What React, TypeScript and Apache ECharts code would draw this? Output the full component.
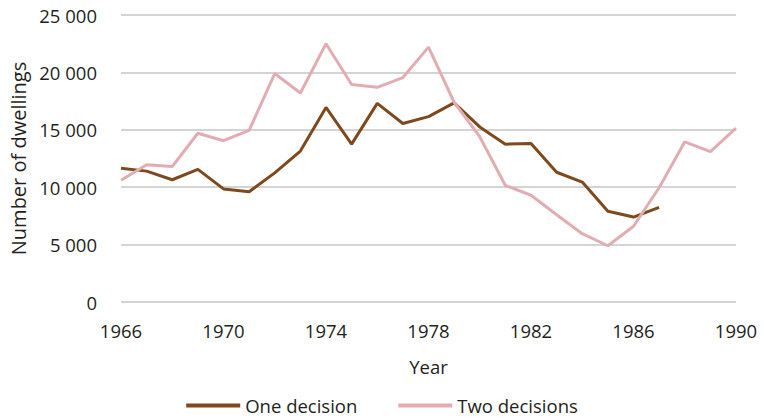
import React, { useEffect, useRef } from "react";
import * as echarts from "echarts";

const years: string[] = [
  "1966", "1967", "1968", "1969", "1970", "1971", "1972", "1973", "1974", "1975",
  "1976", "1977", "1978", "1979", "1980", "1981", "1982", "1983", "1984", "1985",
  "1986", "1987", "1988", "1989", "1990",
];

const oneDecision: (number | null)[] = [
  11650, 11400, 10650, 11550, 9850, 9600, 11250, 13150, 16950, 13750,
  17300, 15550, 16150, 17350, 15250, 13750, 13800, 11300, 10450, 7900,
  7400, 8250, null, null, null,
];

const twoDecisions: number[] = [
  10600, 11950, 11800, 14700, 14050, 14950, 19900, 18200, 22500, 18950,
  18700, 19550, 22200, 17400, 14400, 10150, 9300, 7600, 5950, 4900,
  6600, 9950, 13950, 13100, 15150,
];

const seriesNames = ["One decision", "Two decisions"];
const yTicks = { min: 0, max: 25000, interval: 5000 };

const FONT = "'Open Sans', 'Noto Sans', 'Liberation Sans', sans-serif";
const TEXT = "#231f20";
const BROWN = "#7e4a1d";
const PINK = "#e2adb2";

export default function App() {
  const ref = useRef<HTMLDivElement>(null);

  useEffect(() => {
    if (!ref.current) return;
    const chart = echarts.init(ref.current, undefined, { renderer: "svg" });
    chart.setOption({
      animation: false,
      backgroundColor: "#ffffff",
      textStyle: { fontFamily: FONT, color: TEXT },
      grid: { left: 121, right: 28, top: 15, bottom: 117, containLabel: false },
      legend: {
        data: seriesNames,
        left: "center",
        top: 391,
        icon: "rect",
        itemWidth: 54,
        itemHeight: 4,
        itemGap: 41,
        textStyle: { fontFamily: FONT, fontSize: 18.5, color: TEXT },
      },
      xAxis: {
        type: "category",
        data: years,
        boundaryGap: false,
        name: "Year",
        nameLocation: "middle",
        nameGap: 55,
        nameTextStyle: { fontFamily: FONT, fontSize: 18.5, color: TEXT },
        axisLine: { show: false },
        axisTick: { show: false },
        axisLabel: {
          interval: 3,
          margin: 19,
          fontFamily: FONT,
          fontSize: 18.5,
          color: TEXT,
        },
        splitLine: { show: false },
      },
      yAxis: {
        type: "value",
        min: yTicks.min,
        max: yTicks.max,
        interval: yTicks.interval,
        name: "Number of dwellings",
        nameLocation: "middle",
        nameGap: 88,
        nameTextStyle: { fontFamily: FONT, fontSize: 20, color: TEXT },
        axisLine: { show: false },
        axisTick: { show: false },
        axisLabel: {
          margin: 24,
          fontFamily: FONT,
          fontSize: 18.5,
          color: TEXT,
          formatter: (v: number) =>
            String(v).replace(/\B(?=(\d{3})+(?!\d))/g, " "),
        },
        splitLine: { show: true, lineStyle: { color: "#c6c6c6", width: 1.5 } },
      },
      series: [
        {
          name: seriesNames[0],
          type: "line",
          data: oneDecision,
          showSymbol: false,
          symbol: "none",
          color: BROWN,
          lineStyle: { color: BROWN, width: 3 },
        },
        {
          name: seriesNames[1],
          type: "line",
          data: twoDecisions,
          showSymbol: false,
          symbol: "none",
          color: PINK,
          lineStyle: { color: PINK, width: 3 },
        },
      ],
    });
    return () => chart.dispose();
  }, []);

  return (
    <div
      ref={ref}
      style={{ position: "fixed", left: 0, top: 0, width: 764, height: 419 }}
    />
  );
}
